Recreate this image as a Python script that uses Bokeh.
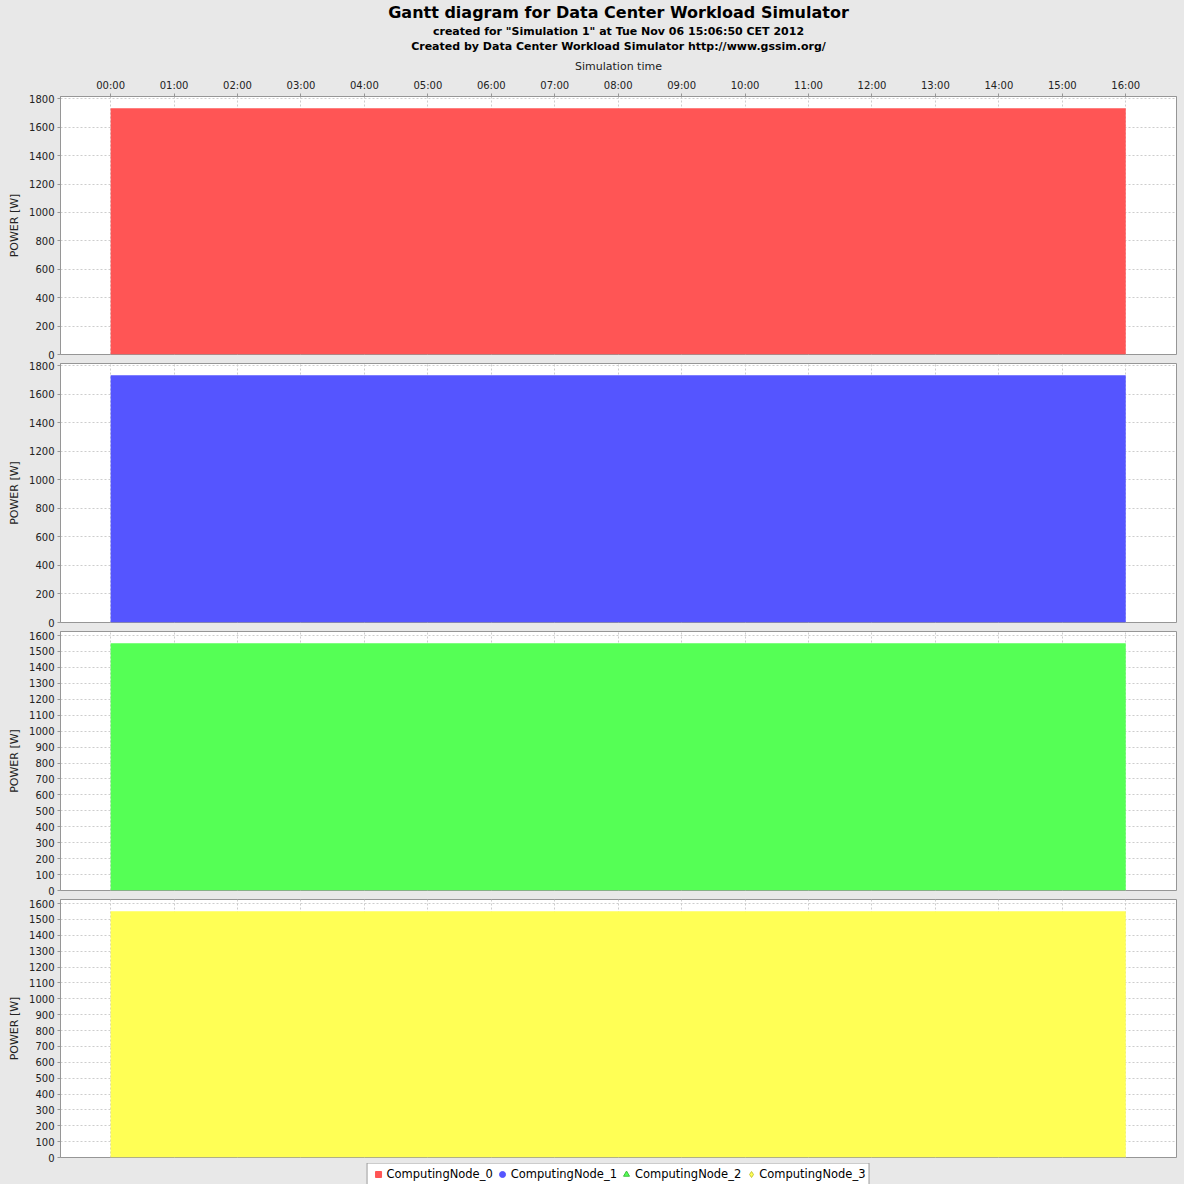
import numpy as np
from bokeh.plotting import figure
from bokeh.models import Range1d, FixedTicker, Label, Legend, LegendItem, ColumnDataSource
from bokeh.layouts import column
from bokeh.embed import file_html
from bokeh.resources import INLINE

# ---------------- data ----------------
title_text = "Gantt diagram for Data Center Workload Simulator"
subtitle_1 = 'created for "Simulation 1" at Tue Nov 06 15:06:50 CET 2012'
subtitle_2 = "Created by Data Center Workload Simulator http://www.gssim.org/"
x_axis_title = "Simulation time"
y_axis_title = "POWER [W]"

nodes = ["ComputingNode_0", "ComputingNode_1", "ComputingNode_2", "ComputingNode_3"]
node_colors = ["#FF5555", "#5555FF", "#55FF55", "#FFFF55"]
marker_lines = ["#FF5555", "#5555FF", "#3fbf3f", "#c8c83a"]
legend_markers = ["square", "circle", "triangle", "diamond"]
start_hour = [0, 0, 0, 0]
end_hour = [16, 16, 16, 16]
power_w = [1733, 1733, 1551, 1551]
y_tick_step = [200, 200, 100, 100]
y_tick_max = [1800, 1800, 1600, 1600]
hour_ticks = list(range(0, 17))
hour_labels = ["%02d:00" % h for h in hour_ticks]

# ---------------- style ----------------
BG = "#e8e8e8"
FONT = "DejaVu Sans"
W = 1184
LEFT = 60
RIGHT = 8
GRID_COLOR = "#cdcdcd"
FRAME_COLOR = "#969696"
TXT = "#222222"
TICK_FS = "10px"
LABEL_FS = "11px"

# header figure with titles
HEAD_H = 56
head = figure(width=W, height=HEAD_H, x_range=Range1d(0, W), y_range=Range1d(HEAD_H, 0),
              x_axis_location=None, y_axis_location=None, toolbar_location=None,
              output_backend="svg", min_border=0, outline_line_color=None,
              background_fill_color=BG, border_fill_color=BG)
head.grid.visible = False
for txt, yy, size in [(title_text, 12, "16px"), (subtitle_1, 31, "11px"), (subtitle_2, 46, "11px")]:
    head.add_layout(Label(x=W / 2, y=yy, text=txt, text_align="center", text_baseline="middle",
                          text_font=FONT, text_font_size=size, text_font_style="bold",
                          text_color="black"))


def make_panel(i, height, top, bottom, show_x):
    p = figure(width=W, height=height,
               x_range=Range1d(-0.79, 16.80), y_range=Range1d(0, power_w[i] * 1.048),
               x_axis_location="above" if show_x else None,
               toolbar_location=None, output_backend="svg",
               min_border_left=LEFT, min_border_right=RIGHT,
               min_border_top=top, min_border_bottom=bottom,
               background_fill_color="white", border_fill_color=BG,
               outline_line_color=FRAME_COLOR)
    src = ColumnDataSource(dict(left=[start_hour[i]], right=[end_hour[i]], top=[power_w[i]]))
    p.quad(left="left", right="right", bottom=0, top="top", source=src,
           fill_color=node_colors[i], line_color=None)

    p.yaxis.ticker = FixedTicker(ticks=list(range(0, y_tick_max[i] + 1, y_tick_step[i])))
    p.yaxis.axis_label = y_axis_title
    p.yaxis.axis_label_text_font = FONT
    p.yaxis.axis_label_text_font_size = LABEL_FS
    p.yaxis.axis_label_text_font_style = "normal"
    p.yaxis.axis_label_text_color = TXT
    p.yaxis.axis_label_standoff = 5
    p.yaxis.major_label_text_font = FONT
    p.yaxis.major_label_text_font_size = TICK_FS
    p.yaxis.major_label_text_color = TXT
    p.yaxis.major_label_standoff = 3
    p.yaxis.axis_line_color = FRAME_COLOR
    p.yaxis.major_tick_line_color = FRAME_COLOR
    p.yaxis.major_tick_out = 3
    p.yaxis.major_tick_in = 0
    p.yaxis.minor_tick_line_color = None

    if show_x:
        p.xaxis.ticker = FixedTicker(ticks=hour_ticks)
        p.xaxis.major_label_overrides = dict(zip(hour_ticks, hour_labels))
        p.xaxis.axis_label = x_axis_title
        p.xaxis.axis_label_text_font = FONT
        p.xaxis.axis_label_text_font_size = LABEL_FS
        p.xaxis.axis_label_text_font_style = "normal"
        p.xaxis.axis_label_text_color = TXT
        p.xaxis.axis_label_standoff = 4
        p.xaxis.major_label_text_font = FONT
        p.xaxis.major_label_text_font_size = TICK_FS
        p.xaxis.major_label_text_color = TXT
        p.xaxis.major_label_standoff = 3
        p.xaxis.axis_line_color = FRAME_COLOR
        p.xaxis.major_tick_line_color = FRAME_COLOR
        p.xaxis.major_tick_out = 3
        p.xaxis.major_tick_in = 0
        p.xaxis.minor_tick_line_color = None

    p.xgrid.ticker = FixedTicker(ticks=hour_ticks)
    for g in (p.xgrid, p.ygrid):
        g.grid_line_color = GRID_COLOR
        g.grid_line_dash = "2 2"
        g.grid_line_width = 1
    return p


p1 = make_panel(0, 39 + 259 + 6, 39, 6, True)
p2 = make_panel(1, 3 + 259 + 6, 3, 6, False)
p3 = make_panel(2, 3 + 259 + 6, 3, 6, False)
p4 = make_panel(3, 3 + 258 + 6, 3, 6, False)

# legend strip
LEG_H = W - (HEAD_H + p1.height + p2.height + p3.height + p4.height)
leg = figure(width=W, height=LEG_H, x_range=Range1d(0, 1), y_range=Range1d(0, 1),
             x_axis_location=None, y_axis_location=None, toolbar_location=None,
             output_backend="svg", min_border=0, outline_line_color=None,
             background_fill_color=BG, border_fill_color=BG)
leg.grid.visible = False
items = []
for i, name in enumerate(nodes):
    r = leg.scatter(x=[np.nan], y=[np.nan], marker=legend_markers[i], size=7,
                    fill_color=node_colors[i], line_color=marker_lines[i])
    items.append(LegendItem(label=name, renderers=[r]))

legend = Legend(items=items, orientation="horizontal", location="center",
                label_text_font=FONT, label_text_font_size="11.5px", label_text_color="black",
                glyph_width=15, glyph_height=15, label_standoff=1, spacing=2,
                padding=3, margin=0, border_line_color="#333333", border_line_width=1.5,
                background_fill_color="white", background_fill_alpha=1.0,
                label_height=14)
leg.add_layout(legend, "center")

layout = column(head, p1, p2, p3, p4, leg, spacing=0)
layout.background = BG

open("out.html", "w").write(file_html(layout, INLINE))
